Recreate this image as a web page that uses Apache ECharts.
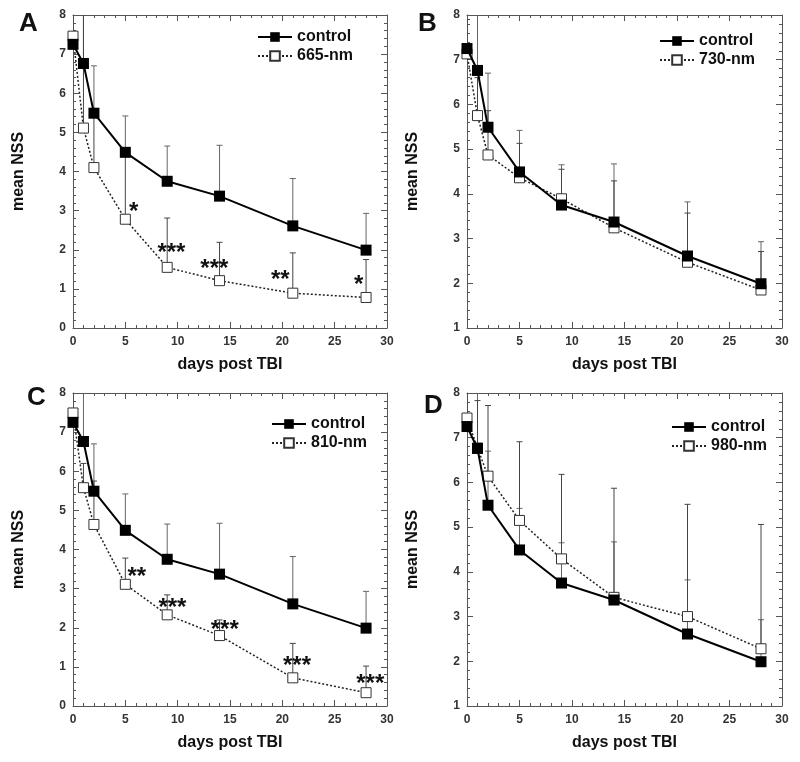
<!DOCTYPE html>
<html>
<head>
<meta charset="utf-8">
<script src="https://cdn.jsdelivr.net/npm/echarts@6/dist/echarts.min.js"></script>
<style>
html,body{margin:0;padding:0;background:#fff;}
#chart{width:800px;height:762px;}
</style>
</head>
<body>
<div id="chart"></div>
<script>
// ---------- data ----------
const days = [0, 1, 2, 5, 9, 14, 21, 28];
const panelLetters = ['A', 'B', 'C', 'D'];
const treatmentNames = ['665-nm', '730-nm', '810-nm', '980-nm'];
const yMins = [0, 1, 0, 1];
const yMax = 8;
const xTicks = [0, 5, 10, 15, 20, 25, 30];

const control = [7.25, 6.76, 5.49, 4.49, 3.75, 3.37, 2.61, 1.99];
const controlUpper = [8.6, 8.6, 6.70, 5.42, 4.65, 4.67, 3.82, 2.93];

const nm665 = [7.46, 5.11, 4.10, 2.78, 1.55, 1.21, 0.89, 0.78];
const nm665Upper = [8.3, 8.6, 5.6, 4.4, 2.81, 2.19, 1.92, 1.75];

const nm730 = [7.13, 5.75, 4.87, 4.36, 3.89, 3.24, 2.47, 1.85];
const nm730Upper = [7.9, 6.6, 5.86, 5.13, 4.55, 4.29, 3.57, 2.71];

const nm810 = [7.49, 5.58, 4.64, 3.11, 2.33, 1.80, 0.72, 0.34];
const nm810Upper = [8.2, 6.2, 5.75, 3.78, 2.84, 2.20, 1.60, 1.02];

const nm980 = [7.44, 6.77, 6.14, 5.15, 4.29, 3.43, 3.00, 2.28];
const nm980Upper = [8.3, 7.83, 7.72, 6.91, 6.18, 5.87, 5.51, 5.06];

// significance annotations: [day, y, text]
const starsA = [[5.8, 3.05, '*'], [9.4, 2.0, '***'], [13.5, 1.6, '***'], [19.8, 1.33, '**'], [27.3, 1.2, '*']];
const starsC = [[6.1, 3.38, '**'], [9.5, 2.6, '***'], [14.5, 2.03, '***'], [21.4, 1.12, '***'], [28.4, 0.66, '***']];

const treatments = [nm665, nm730, nm810, nm980];
const treatmentUppers = [nm665Upper, nm730Upper, nm810Upper, nm980Upper];
const stars = [starsA, [], starsC, []];

// ---------- layout / style ----------
const FONT = '"Liberation Sans", Arial, Helvetica, sans-serif';
const grids = [
  {left: 73, top: 15, width: 314, height: 313},
  {left: 467, top: 15, width: 315, height: 313},
  {left: 73, top: 393, width: 314, height: 313},
  {left: 467, top: 393, width: 315, height: 313}
];
const legendPos = [
  {left: 257, top: 29}, {left: 659, top: 33}, {left: 271, top: 416}, {left: 671, top: 419}
];
const titlePos = [
  {left: 19, top: 11}, {left: 418, top: 11}, {left: 27, top: 385}, {left: 424, top: 393}
];
const FRAME = '#555';
const STAR_GLYPH_OFFSET = 4; // asterisk glyph sits high in the em box

const chart = echarts.init(document.getElementById('chart'));

function pairs(xs, ys) { return xs.map((x, i) => [x, ys[i]]); }
function triples(xs, ys, us) { return xs.map((x, i) => [x, ys[i], us[i]]); }

function errRender(color) {
  return function (params, api) {
    const x = api.value(0), y = api.value(1), hi = api.value(2);
    const p0 = api.coord([x, y]);
    const p1 = api.coord([x, hi]);
    return {
      type: 'group',
      children: [
        {type: 'line', shape: {x1: p0[0], y1: p0[1], x2: p1[0], y2: p1[1]}, style: {stroke: color, lineWidth: 1}},
        {type: 'line', shape: {x1: p1[0] - 3, y1: p1[1], x2: p1[0] + 3, y2: p1[1]}, style: {stroke: color, lineWidth: 1}}
      ]
    };
  };
}
function starRender(params, api) {
  const p = api.coord([api.value(0), api.value(1)]);
  return {
    type: 'text',
    x: p[0], y: p[1] + STAR_GLYPH_OFFSET,
    style: {
      text: String(api.value(2)),
      fontFamily: FONT, fontSize: 24, fontWeight: 'bold',
      fill: '#111', align: 'center', verticalAlign: 'middle'
    }
  };
}

const xAxes = [], yAxes = [], series = [], legends = [], titles = [];

grids.forEach((g, i) => {
  const axisCommon = {
    axisLine: {show: true, onZero: false, lineStyle: {color: FRAME, width: 1}},
    axisTick: {show: true, inside: true, length: 6, lineStyle: {color: FRAME}},
    minorTick: {show: true, splitNumber: 5, length: 3, lineStyle: {color: FRAME}},
    splitLine: {show: false}
  };
  xAxes.push(Object.assign({
    type: 'value', gridIndex: i, position: 'bottom', min: 0, max: 30, interval: 5,
    axisLabel: {show: true, margin: 8, fontFamily: FONT, fontSize: 12, fontWeight: 'bold', color: '#333'},
    name: 'days post TBI', nameLocation: 'middle', nameGap: 29,
    nameTextStyle: {fontFamily: FONT, fontSize: 16, fontWeight: 'bold', color: '#111'}
  }, axisCommon));
  xAxes.push(Object.assign({
    type: 'value', gridIndex: i, position: 'top', min: 0, max: 30, interval: 5,
    axisLabel: {show: false}
  }, axisCommon));
  yAxes.push(Object.assign({
    type: 'value', gridIndex: i, position: 'left', min: yMins[i], max: yMax, interval: 1,
    axisLabel: {show: true, margin: 7, fontFamily: FONT, fontSize: 12, fontWeight: 'bold', color: '#333'},
    name: 'mean NSS', nameLocation: 'middle', nameGap: 46,
    nameTextStyle: {fontFamily: FONT, fontSize: 16, fontWeight: 'bold', color: '#111'}
  }, axisCommon));
  yAxes.push(Object.assign({
    type: 'value', gridIndex: i, position: 'right', min: yMins[i], max: yMax, interval: 1,
    axisLabel: {show: false}
  }, axisCommon));

  const xi = 2 * i, yi = 2 * i;
  series.push({
    type: 'custom', name: 'err-control-' + i, xAxisIndex: xi, yAxisIndex: yi, clip: true, z: 1,
    renderItem: errRender('#666'), encode: {x: 0, y: 1},
    data: triples(days, control, controlUpper), silent: true
  });
  series.push({
    type: 'custom', name: 'err-treat-' + i, xAxisIndex: xi, yAxisIndex: yi, clip: true, z: 1,
    renderItem: errRender('#444'), encode: {x: 0, y: 1},
    data: triples(days, treatments[i], treatmentUppers[i]), silent: true
  });
  series.push({
    type: 'line', name: treatmentNames[i], xAxisIndex: xi, yAxisIndex: yi, z: 3,
    data: pairs(days, treatments[i]),
    symbol: 'rect', symbolSize: 10, showAllSymbol: true,
    lineStyle: {color: '#222', width: 1.5, type: [2, 2]},
    itemStyle: {color: '#fff', borderColor: '#333', borderWidth: 1},
    emphasis: {disabled: true}, animation: false
  });
  series.push({
    type: 'line', name: 'control', xAxisIndex: xi, yAxisIndex: yi, z: 4,
    data: pairs(days, control),
    symbol: 'rect', symbolSize: 11, showAllSymbol: true,
    lineStyle: {color: '#000', width: 2},
    itemStyle: {color: '#000'},
    emphasis: {disabled: true}, animation: false
  });
  if (stars[i].length) {
    series.push({
      type: 'custom', name: 'stars-' + i, xAxisIndex: xi, yAxisIndex: yi, z: 5,
      encode: {x: 0, y: 1},
      renderItem: starRender, data: stars[i], silent: true
    });
  }
  legends.push({
    orient: 'vertical', left: legendPos[i].left, top: legendPos[i].top, padding: 0,
    itemWidth: 34, itemHeight: 12, itemGap: 3, selectedMode: false,
    data: ['control', treatmentNames[i]],
    textStyle: {fontFamily: FONT, fontSize: 16, fontWeight: 'bold', color: '#111'}
  });
  titles.push({
    text: panelLetters[i], left: titlePos[i].left, top: titlePos[i].top, padding: 0,
    textStyle: {fontFamily: FONT, fontSize: 26, fontWeight: 'bold', color: '#111'}
  });
});

chart.setOption({
  backgroundColor: '#fff',
  animation: false,
  title: titles,
  legend: legends,
  grid: grids,
  xAxis: xAxes,
  yAxis: yAxes,
  series: series
});
</script>
</body>
</html>
